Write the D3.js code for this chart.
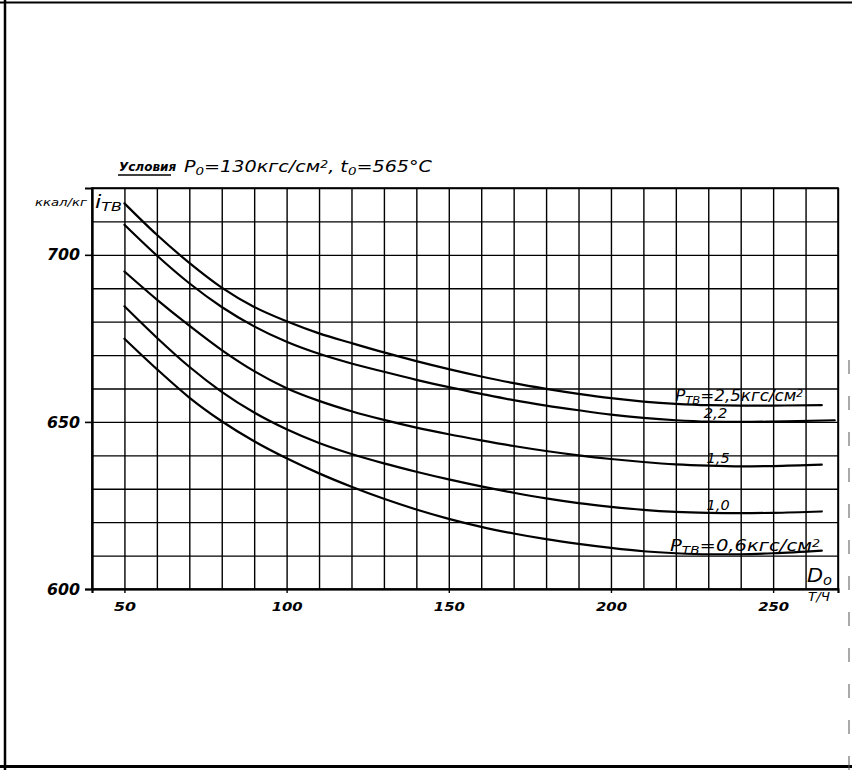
<!DOCTYPE html>
<html><head><meta charset="utf-8">
<script src="https://cdn.jsdelivr.net/npm/d3@7"></script>
<style>body{margin:0;background:#fff}svg{display:block}</style>
</head><body>
<svg id="c" width="852" height="770"></svg>
<script>
// ---- data ----
const flowX   = [50,60,70,80,90,100,110,120,130,140,150,160,170,180,190,200,210,220,230,240,250,265];
const flowX22 = [50,60,70,80,90,100,110,120,130,140,150,160,170,180,190,200,210,220,230,240,250,269];
const iTv25 = [715.4,706.0,697.6,690.2,684.4,680.1,676.5,673.6,670.8,668.2,665.8,663.6,661.6,659.9,658.4,657.1,656.1,655.4,655.0,654.9,654.9,655.0];
const iTv22 = [709.0,699.8,691.5,684.4,678.6,674.0,670.4,667.5,665.0,662.6,660.4,658.4,656.5,654.9,653.5,652.2,651.2,650.5,650.1,650.0,650.1,650.5];
const iTv15 = [695.0,686.6,678.8,671.5,665.2,660.1,656.3,653.2,650.6,648.3,646.3,644.5,642.8,641.3,640.0,638.9,638.0,637.3,636.9,636.7,636.8,637.2];
const iTv10 = [684.6,675.2,666.5,659.0,652.8,647.8,643.7,640.4,637.6,635.1,632.8,630.7,628.8,627.1,625.7,624.6,623.7,623.1,622.8,622.7,622.8,623.2];
const iTv06 = [674.9,665.8,657.3,650.2,644.2,639.1,634.6,630.6,627.0,623.8,621.0,618.6,616.6,614.9,613.5,612.3,611.3,610.7,610.4,610.4,610.7,611.5];
const xTicks = [50,100,150,200,250];
const yTicks = [600,650,700];
const xDomain = [40,270];
const yDomain = [600,720];

const svg = d3.select("#c");
const font = "'DejaVu Sans', sans-serif";

// page frame (scan border)
svg.append("line").attr("x1",5).attr("x2",5).attr("y1",0).attr("y2",770).attr("stroke","#000").attr("stroke-width",2.5);
svg.append("line").attr("x1",0).attr("x2",852).attr("y1",2.5).attr("y2",2.5).attr("stroke","#000").attr("stroke-width",2);
svg.append("line").attr("x1",0).attr("x2",852).attr("y1",766.5).attr("y2",766.5).attr("stroke","#000").attr("stroke-width",3);
svg.append("line").attr("x1",849).attr("x2",849).attr("y1",360).attr("y2",770).attr("stroke","#555").attr("stroke-width",1).attr("stroke-dasharray","14 22");

const L = 92, R = 838, T = 188, B = 589;
const x = d3.scaleLinear().domain(xDomain).range([L, R]);
const y = d3.scaleLinear().domain(yDomain).range([B, T]);

// grid
const gx = svg.append("g").attr("transform",`translate(0,${B})`)
  .call(d3.axisBottom(x).tickValues(d3.range(40,271,10)).tickSize(-(B-T)).tickFormat(""));
gx.select(".domain").remove();
gx.selectAll("line").attr("stroke","#000").attr("stroke-width",1.4);
const gy = svg.append("g").attr("transform",`translate(${L},0)`)
  .call(d3.axisLeft(y).tickValues(d3.range(600,721,10)).tickSize(-(R-L)).tickFormat(""));
gy.select(".domain").remove();
gy.selectAll("line").attr("stroke","#000").attr("stroke-width",1.4);

// axes
const ax = svg.append("g").attr("transform",`translate(0,${B})`)
  .call(d3.axisBottom(x).tickValues(xTicks).tickSize(4).tickPadding(6).tickFormat(d3.format("d")));
ax.select(".domain").attr("stroke","#000").attr("stroke-width",2.2);
ax.selectAll("line").attr("stroke","#000").attr("stroke-width",1.4);
ax.selectAll("text").attr("font-family",font).attr("font-style","italic").attr("font-weight","bold")
  .attr("font-size",13).attr("fill","#000").attr("dy","0.9em")
  .attr("textLength", d => d >= 100 ? 31 : 22).attr("lengthAdjust","spacingAndGlyphs");
const ay = svg.append("g").attr("transform",`translate(${L},0)`)
  .call(d3.axisLeft(y).tickValues(yTicks).tickSize(7).tickPadding(5).tickFormat(d3.format("d")));
ay.select(".domain").attr("stroke","#000").attr("stroke-width",2.2);
ay.selectAll("line").attr("stroke","#000").attr("stroke-width",1.6);
ay.selectAll("text").attr("font-family",font).attr("font-style","italic").attr("font-weight","bold")
  .attr("font-size",16).attr("fill","#000").attr("textLength",33).attr("lengthAdjust","spacingAndGlyphs");
// frame of plot
svg.append("rect").attr("x",L).attr("y",T).attr("width",R-L).attr("height",B-T)
  .attr("fill","none").attr("stroke","#000").attr("stroke-width",1.6);

// curves
const series = [
  {xs: flowX,   ys: iTv25},
  {xs: flowX22, ys: iTv22},
  {xs: flowX,   ys: iTv15},
  {xs: flowX,   ys: iTv10},
  {xs: flowX,   ys: iTv06}
];
const line = d3.line().x(d => x(d[0])).y(d => y(d[1])).curve(d3.curveMonotoneX);
series.forEach(s => {
  svg.append("path").datum(s.xs.map((v,i)=>[v,s.ys[i]]))
    .attr("d", line).attr("fill","none").attr("stroke","#000").attr("stroke-width",2.2)
    .attr("stroke-linecap","round");
});

// helper for hand-lettered text
function txt(px, py, parts, len, size, anchor) {
  const t = svg.append("text").attr("x",px).attr("y",py).attr("font-family",font)
    .attr("font-style","italic").attr("font-size",size).attr("fill","#000")
    .attr("text-anchor",anchor||"start");
  parts.forEach(p => {
    const ts = t.append("tspan").text(p.t);
    if (p.sub) ts.attr("font-size",size*0.7).attr("baseline-shift","-25%");
    if (p.sup) ts.attr("font-size",size*0.65).attr("baseline-shift","45%");
  });
  if (len) t.attr("textLength",len).attr("lengthAdjust","spacingAndGlyphs");
  return t;
}

// title
txt(119, 171, [{t:"Условия"}], null, 12).attr("font-weight","bold");
svg.append("line").attr("x1",118).attr("x2",171).attr("y1",175).attr("y2",175).attr("stroke","#000").attr("stroke-width",1.6);
txt(184, 172, [{t:"P"},{t:"0",sub:true},{t:"=130кгс/см"},{t:"2",sup:true},{t:", t"},{t:"0",sub:true},{t:"=565°C"}], 248, 15);

// y unit
txt(35, 206, [{t:"ккал/кг"}], 52, 11);
txt(95, 208, [{t:"i",},{t:"ТВ",sub:true}], 27, 17);

// x unit
txt(807, 582, [{t:"D"},{t:"о",sub:true}], 25, 19);
txt(808, 601, [{t:"Т/Ч"}], 22, 12);

// curve labels
txt(x(219.8), y(656.2), [{t:"P"},{t:"ТВ",sub:true},{t:"=2,5кгс/см"},{t:"2",sup:true}], 128, 15);
txt(x(228.5), y(651.1), [{t:"2,2"}], 24, 14);
txt(x(229.5), y(637.8), [{t:"1,5"}], 23, 14);
txt(x(229.5), y(623.6), [{t:"1,0"}], 23, 14);
txt(x(218.2), y(611.4), [{t:"P"},{t:"ТВ",sub:true},{t:"=0,6кгс/см"},{t:"2",sup:true}], 150, 16);
</script>
</body></html>
